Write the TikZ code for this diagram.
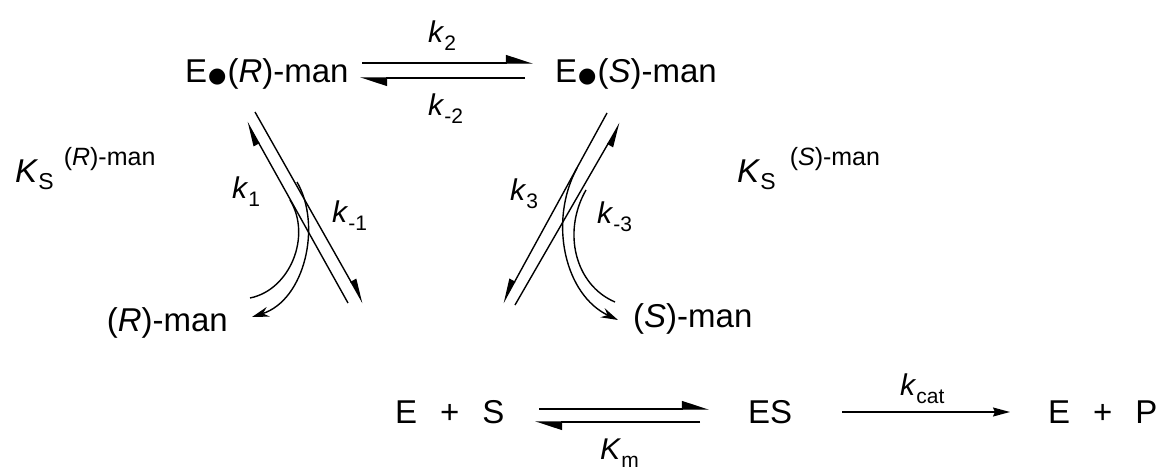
\documentclass[tikz,border=0pt]{standalone}
\usepackage{fontspec}
\setmainfont{Liberation Sans}
\newfontfamily\djv{DejaVu Sans}
\usetikzlibrary{arrows.meta}
\newcommand\bdot{\hspace{1pt}{\djv\fontsize{21}{21}\selectfont ●}\hspace{1pt}}
\newcommand\lsub[1]{\raisebox{-0.28em}{\fontsize{21}{21}\selectfont #1}}
\newcommand\ksb[1]{\textit{k}\lsub{#1}}
\begin{document}
\begin{tikzpicture}[x=1pt,y=-1pt,
  txt/.style={inner sep=0pt, font=\fontsize{33}{40}\selectfont},
  lbl/.style={inner sep=0pt, font=\fontsize{30}{36}\selectfont},
  ln/.style={line width=1.4pt},
  hp/.style={ln,-{Triangle[harpoon,length=25pt,width=16pt]}},
  dh/.style={ln,-{Triangle[harpoon,length=22pt,width=12pt]}},
  dhs/.style={ln,-{Triangle[harpoon,swap,length=22pt,width=12pt]}},
  cv/.style={ln},
  cvh/.style={ln,-{Stealth[length=17pt,width=10pt]}},
  fa/.style={ln,-{Stealth[length=17pt,width=9pt,inset=2pt]}}
]
\useasboundingbox (0,0) rectangle (1157,471);
% top row
\node[txt,anchor=base west] (ER) at (185,82) {E\bdot(\textit{R})-man};
\node[txt,anchor=base west] (ESm) at (555,82) {E\bdot(\textit{S})-man};
\coordinate (t1) at (362,63); \coordinate (t2) at (533,63);
\coordinate (t3) at (525,78); \coordinate (t4) at (360,78);
\draw[hp] (t1) -- (t2);
\draw[hp] (t3) -- (t4);
\node[lbl,anchor=base west] (k2) at (428,42) {\ksb{2}};
\node[lbl,anchor=base west] (km2) at (428,115) {\ksb{-2}};
% dissociation constants
\node[txt,anchor=base west] (KR) at (15,182) {\textit{K}\raisebox{-7pt}{\fontsize{23}{23}\selectfont S}\hspace{10pt}\raisebox{17pt}{\fontsize{25}{25}\selectfont (\textit{R})-man}};
\node[txt,anchor=base west] (KS) at (737,182) {\textit{K}\raisebox{-7pt}{\fontsize{23}{23}\selectfont S}\hspace{14pt}\raisebox{17pt}{\fontsize{25}{25}\selectfont (\textit{S})-man}};
% left cluster
\coordinate (a1) at (348,303); \coordinate (a2) at (247,122);
\coordinate (b1) at (255,112); \coordinate (b2) at (363,303);
\draw[dh] (a1) -- (a2);
\draw[dh] (b1) -- (b2);
\coordinate (ci1) at (290,200); \coordinate (ci2) at (250,298);
\coordinate (co1) at (297,182); \coordinate (co2) at (252,317);
\draw[cv] (ci1) .. controls (312,236) and (290,290) .. (ci2);
\draw[cvh] (co1) .. controls (322,225) and (305,300) .. (co2);
\node[lbl,anchor=base west] (k1) at (232,198) {\ksb{1}};
\node[lbl,anchor=base west] (km1) at (332,222) {\ksb{-1}};
\node[txt,anchor=base east] (Rman) at (228,331) {(\textit{R})-man};
% right cluster
\coordinate (r1) at (607,113); \coordinate (r2) at (503,303);
\coordinate (s1) at (515,305); \coordinate (s2) at (620,123);
\draw[dhs] (r1) -- (r2);
\draw[dhs] (s1) -- (s2);
\coordinate (da1) at (577,168); \coordinate (da2) at (618,320);
\coordinate (db1) at (586,190); \coordinate (db2) at (615,302);
\draw[cvh] (da1) .. controls (548,222) and (565,295) .. (da2);
\draw[cv] (db1) .. controls (562,232) and (575,285) .. (db2);
\node[lbl,anchor=base west] (k3) at (510,200) {\ksb{3}};
\node[lbl,anchor=base west] (km3) at (597,223) {\ksb{-3}};
\node[txt,anchor=base west] (Sman) at (633,327) {(\textit{S})-man};
% bottom row
\node[txt,anchor=base west] (EpS) at (395,423) {E\hspace{23pt}+\hspace{23pt}S};
\node[txt,anchor=base west] (ESc) at (748,423) {ES};
\node[txt,anchor=base west] (EpP) at (1048,423) {E\hspace{23pt}+\hspace{23pt}P};
\coordinate (m1) at (539,409); \coordinate (m2) at (709,409);
\coordinate (m3) at (700,422); \coordinate (m4) at (535,422);
\draw[hp] (m1) -- (m2);
\draw[hp] (m3) -- (m4);
\node[lbl,anchor=base west] (Km) at (600,459) {\textit{K}\lsub{m}};
\coordinate (c1) at (842,412); \coordinate (c2) at (1010,412);
\draw[fa] (c1) -- (c2);
\node[lbl,anchor=base west] (kcat) at (900,395) {\ksb{cat}};
\end{tikzpicture}
\end{document}
